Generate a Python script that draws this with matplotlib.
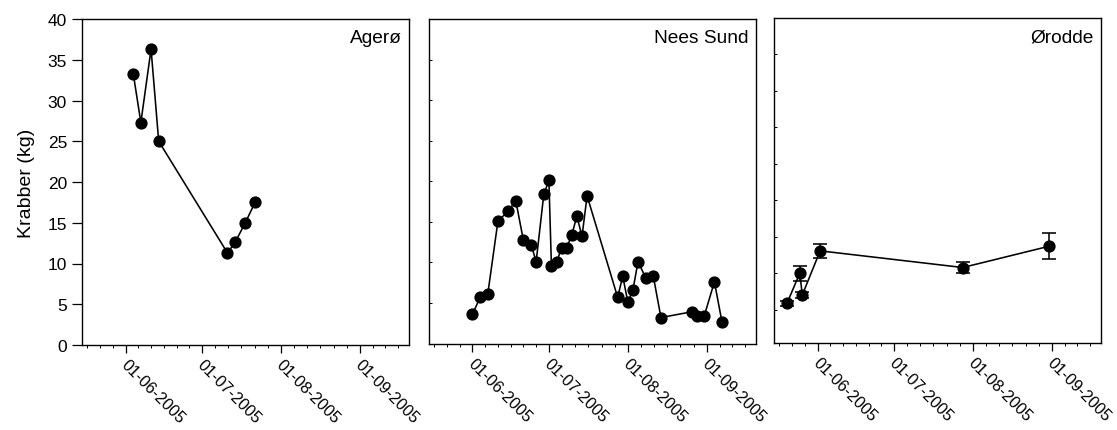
import matplotlib
matplotlib.use('Agg')
import matplotlib.pyplot as plt
import matplotlib.dates as mdates
import matplotlib.transforms as mtransforms
import numpy as np
from datetime import datetime, timedelta

plt.rcParams['font.family'] = ['Liberation Sans', 'DejaVu Sans']

# ---------------- data ----------------
agero_dates = ['2005-06-04', '2005-06-07', '2005-06-11', '2005-06-14',
               '2005-07-11', '2005-07-14', '2005-07-18', '2005-07-22']
agero_kg = [33.3, 27.3, 36.3, 25.0, 11.3, 12.6, 15.0, 17.6]

nees_dates = ['2005-06-01', '2005-06-04', '2005-06-07', '2005-06-11', '2005-06-15',
              '2005-06-18', '2005-06-21', '2005-06-24', '2005-06-26', '2005-06-29',
              '2005-07-01', '2005-07-02', '2005-07-04', '2005-07-06', '2005-07-08',
              '2005-07-10', '2005-07-12', '2005-07-14', '2005-07-16', '2005-07-28',
              '2005-07-30', '2005-08-01', '2005-08-03', '2005-08-05', '2005-08-08',
              '2005-08-11', '2005-08-14', '2005-08-26', '2005-08-28', '2005-08-31',
              '2005-09-04', '2005-09-07']
nees_kg = [3.6, 5.7, 6.1, 15.1, 16.3, 17.6, 12.7, 12.2, 10.1, 18.4,
           20.1, 9.5, 10.0, 11.8, 11.8, 13.4, 15.7, 13.2, 18.2, 5.7,
           8.3, 5.1, 6.6, 10.1, 8.1, 8.3, 3.2, 3.9, 3.4, 3.4,
           7.6, 2.6]

orodde_dates = ['2005-05-20', '2005-05-25', '2005-05-26', '2005-06-02',
                '2005-07-28', '2005-08-31']
orodde_kg = [5.92, 10.02, 7.05, 13.08, 10.80, 13.72]
orodde_err = [0.32, 1.05, 0.45, 1.0, 0.78, 1.8]

panel_titles = ['Agerø', 'Nees Sund', 'Ørodde']
major_dates = ['2005-06-01', '2005-07-01', '2005-08-01', '2005-09-01']
y_ticks = [0, 5, 10, 15, 20, 25, 30, 35, 40]

# ---------------- figure ----------------
W, H = 1117, 431
fig = plt.figure(figsize=(W / 100, H / 100), dpi=100)


def px_axes(x0, y0, x1, y1):
    return fig.add_axes([x0 / W, 1 - y1 / H, (x1 - x0) / W, (y1 - y0) / H])


ax1 = px_axes(82.3, 20, 408.8, 346)
ax2 = px_axes(429.2, 20, 755.7, 344.5)
ax3 = px_axes(774.3, 19.3, 1100.8, 343.5)
axes = [ax1, ax2, ax3]

to_dt = lambda lst: [datetime.strptime(d, '%Y-%m-%d') for d in lst]

mk = dict(color='black', marker='o', markersize=7.8, linewidth=1.15,
          markerfacecolor='black', markeredgecolor='black')

ax1.plot(to_dt(agero_dates), agero_kg, **mk)
ax2.plot(to_dt(nees_dates), nees_kg, **mk)
ax3.errorbar(to_dt(orodde_dates), orodde_kg, yerr=orodde_err, capsize=5,
             elinewidth=1.15, capthick=1.15, ecolor='black', **mk)

xmin = datetime(2005, 5, 15)
xmax = datetime(2005, 9, 20, 5)
majors = to_dt(major_dates)
minors = []
for k in range(1, 4):
    minors.append(majors[0] - timedelta(days=5 * k))
    minors.append(majors[-1] + timedelta(days=5 * k))
for a, b in zip(majors[:-1], majors[1:]):
    span = (b - a) / 6
    for k in range(1, 6):
        minors.append(a + span * k)

offset = mtransforms.ScaledTranslation(3 / 100, -1.5 / 100, fig.dpi_scale_trans)

for i, ax in enumerate(axes):
    ax.set_xlim(xmin, xmax)
    ax.set_xticks(majors)
    ax.set_xticks(minors, minor=True)
    ax.xaxis.set_major_formatter(mdates.DateFormatter('%d-%m-%Y'))
    ax.tick_params(axis='x', which='major', direction='out', length=5.5,
                   width=0.9, labelsize=11.6, pad=2)
    ax.tick_params(axis='x', which='minor', direction='out', length=2, width=0.7)
    for lab in ax.get_xticklabels():
        lab.set_rotation(-45)
        lab.set_ha('left')
        lab.set_va('top')
        lab.set_rotation_mode('anchor')
        lab.set_transform(lab.get_transform() + offset)
    for sp in ax.spines.values():
        sp.set_linewidth(1.0)
    ax.text(0.978, 0.968, panel_titles[i], transform=ax.transAxes,
            ha='right', va='top', fontsize=13.8)

ax1.set_ylim(0, 40)
ax1.set_yticks(y_ticks)
ax1.tick_params(axis='y', direction='out', length=7, width=0.9, labelsize=12.5, pad=4)
ax1.set_ylabel('Krabber (kg)', fontsize=14, labelpad=9)

ax2.set_ylim(0, 40)
ax2.set_yticks(y_ticks)
ax2.tick_params(axis='y', direction='in', length=2, width=0.7, labelleft=False)

ax3.set_ylim(0.54, 44.9)
ax3.set_yticks([5, 10, 15, 20, 25, 30, 35, 40])
ax3.tick_params(axis='y', direction='in', length=2, width=0.7, labelleft=False)

fig.savefig('out.png', dpi=100)
